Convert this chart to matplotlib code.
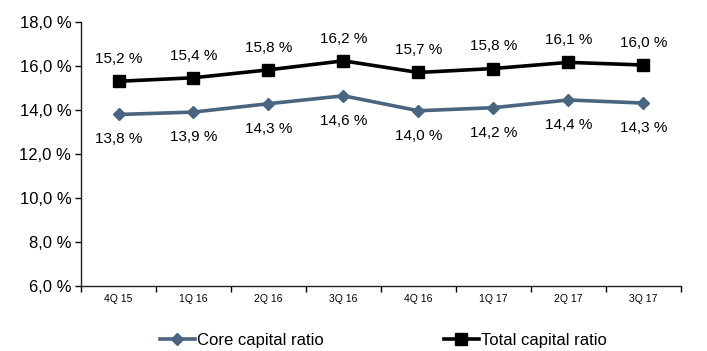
import matplotlib
matplotlib.use('Agg')
import matplotlib.pyplot as plt
from matplotlib.ticker import FuncFormatter

plt.rcParams['font.family'] = ['Liberation Sans', 'DejaVu Sans']

# data (marker heights) and the printed data labels
quarters = ['4Q 15', '1Q 16', '2Q 16', '3Q 16', '4Q 16', '1Q 17', '2Q 17', '3Q 17']
core_ratio = [13.80, 13.91, 14.29, 14.65, 13.97, 14.11, 14.46, 14.32]
total_ratio = [15.31, 15.47, 15.83, 16.24, 15.71, 15.89, 16.17, 16.05]
core_labels = ['13,8 %', '13,9 %', '14,3 %', '14,6 %', '14,0 %', '14,2 %', '14,4 %', '14,3 %']
total_labels = ['15,2 %', '15,4 %', '15,8 %', '16,2 %', '15,7 %', '15,8 %', '16,1 %', '16,0 %']

core_color = '#4a657f'

fig = plt.figure(figsize=(7.07, 3.51), dpi=100)
ax = fig.add_axes([0.1146, 0.185, 0.8484, 0.752])

x = list(range(len(quarters)))
ax.plot(x, core_ratio, color=core_color, lw=2.6, marker='D', ms=6.5,
        label='Core capital ratio')
ax.plot(x, total_ratio, color='black', lw=2.6, marker='s', ms=8.5,
        label='Total capital ratio')

for i in x:
    ax.annotate(total_labels[i], (i, total_ratio[i]), xytext=(0, 16),
                textcoords='offset points', ha='center', va='center', fontsize=11)
    ax.annotate(core_labels[i], (i, core_ratio[i]), xytext=(0, -18),
                textcoords='offset points', ha='center', va='center', fontsize=11)

ax.set_ylim(6, 18)
ax.set_yticks([6, 8, 10, 12, 14, 16, 18])
ax.yaxis.set_major_formatter(FuncFormatter(lambda v, p: f'{v:.1f} %'.replace('.', ',')))
ax.set_xlim(-0.5, len(quarters) - 0.5)
ax.set_xticks(x)
ax.set_xticklabels(quarters, fontsize=7.5)
ax.set_xticks([i - 0.5 for i in range(len(quarters) + 1)], minor=True)
ax.tick_params(axis='x', which='major', length=0, pad=6)
ax.tick_params(axis='x', which='minor', length=4, width=1, direction='out')
ax.tick_params(axis='y', labelsize=12, length=4, width=1, direction='out', pad=3)

for s in ['top', 'right']:
    ax.spines[s].set_visible(False)
for s in ['left', 'bottom']:
    ax.spines[s].set_linewidth(1)
    ax.spines[s].set_color('#222222')

fig.legend(loc='center', bbox_to_anchor=(0.5425, 0.03), ncol=2, frameon=False,
           fontsize=12, handlelength=2.1, handletextpad=0.15, columnspacing=7.2)

fig.savefig('out.png', dpi=100)
